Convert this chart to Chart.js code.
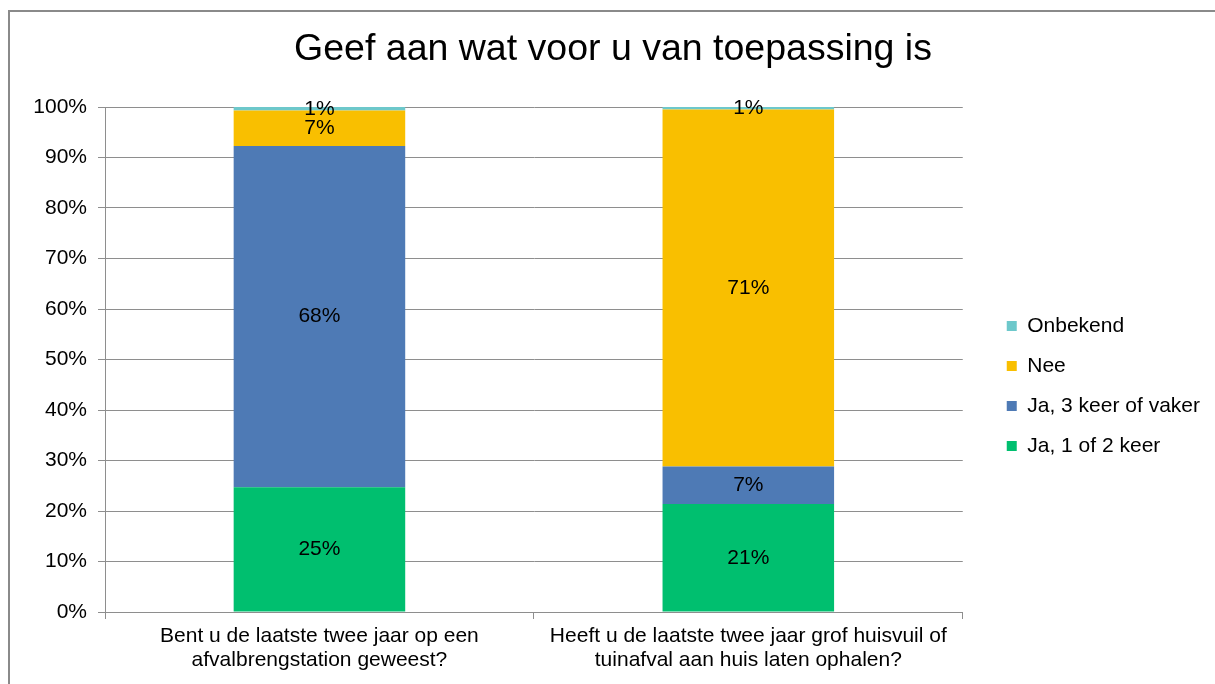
<!DOCTYPE html>
<html>
<head>
<meta charset="utf-8">
<script src="https://cdn.jsdelivr.net/npm/chart.js@4/dist/chart.umd.min.js"></script>
<style>
  html, body { margin: 0; padding: 0; background: #fff; overflow: hidden; }
  #wrap { position: relative; width: 1215px; height: 684px; }
  #frame {
    position: absolute; left: 8px; top: 10px; width: 1300px; height: 800px;
    border-left: 2px solid #8a8a8a; border-top: 2px solid #8a8a8a;
    pointer-events: none;
  }
</style>
</head>
<body>
<div id="wrap">
  <canvas id="chart" width="1215" height="684"></canvas>
  <div id="frame"></div>
</div>
<script>
  // categorieën (x-as)
  var categories = [
    ["Bent u de laatste twee jaar op een", "afvalbrengstation geweest?"],
    ["Heeft u de laatste twee jaar grof huisvuil of", "tuinafval aan huis laten ophalen?"]
  ];

  // waarden per reeks, in procenten
  var jaEenOfTwee = [24.7, 21.4];
  var jaDrieOfVaker = [67.6, 7.4];
  var nee = [7.0, 70.7];
  var onbekend = [0.7, 0.5];

  var yTicks = [0, 10, 20, 30, 40, 50, 60, 70, 80, 90, 100];

  var GRID = "#8e8e8e";
  var FONT = "'Liberation Sans', Arial, sans-serif";

  Chart.defaults.font.family = FONT;
  Chart.defaults.color = "#000";

  /** percentages midden in elk segment */
  var segmentLabels = {
    id: "segmentLabels",
    afterDatasetsDraw: function (chart) {
      var ctx = chart.ctx;
      ctx.save();
      ctx.font = "21px " + FONT;
      ctx.fillStyle = "#000";
      ctx.textAlign = "center";
      ctx.textBaseline = "middle";
      chart.data.datasets.forEach(function (ds, di) {
        chart.getDatasetMeta(di).data.forEach(function (bar, i) {
          var v = ds.data[i];
          ctx.fillText(Math.round(v) + "%", bar.x, (bar.y + bar.base) / 2);
        });
      });
      ctx.restore();
    }
  };

  new Chart(document.getElementById("chart"), {
    type: "bar",
    data: {
      labels: categories,
      datasets: [
        { label: "Ja, 1 of 2 keer", data: jaEenOfTwee, backgroundColor: "#00bf6f" },
        { label: "Ja, 3 keer of vaker", data: jaDrieOfVaker, backgroundColor: "#4e7ab5" },
        { label: "Nee", data: nee, backgroundColor: "#f9bf00" },
        { label: "Onbekend", data: onbekend, backgroundColor: "#6dc8cb" }
      ]
    },
    options: {
      responsive: false,
      animation: false,
      borderWidth: 0,
      barPercentage: 0.4,
      categoryPercentage: 1,
      layout: { padding: { left: 16, right: 5, top: 0, bottom: 0 } },
      plugins: {
        tooltip: { enabled: false },
        title: {
          display: true,
          text: "Geef aan wat voor u van toepassing is",
          color: "#000",
          font: { size: 37.5, weight: "normal", lineHeight: 1.2 },
          padding: { top: 27, bottom: 35 }
        },
        legend: {
          position: "right",
          reverse: true,
          maxWidth: 300,
          title: { display: true, text: "", font: { size: 10, lineHeight: 1.2 }, padding: { top: 76, bottom: 0 } },
          labels: {
            boxWidth: 10,
            boxHeight: 10,
            padding: 19,
            color: "#000",
            font: { size: 21 }
          }
        }
      },
      scales: {
        x: {
          stacked: true,
          grid: { drawOnChartArea: false, drawTicks: true, tickLength: 7, color: GRID },
          border: { display: true, color: GRID },
          ticks: { padding: 5, color: "#000", font: { size: 21, lineHeight: 1.15 }, maxRotation: 0, autoSkip: false },
          afterFit: function (s) { s.height = 72; }
        },
        y: {
          stacked: true,
          min: 0,
          max: 100,
          afterBuildTicks: function (s) {
            s.ticks = yTicks.map(function (v) { return { value: v }; });
          },
          grid: { color: GRID, tickLength: 7 },
          border: { display: true, color: GRID },
          ticks: {
            padding: 11,
            color: "#000",
            font: { size: 21 },
            callback: function (v) { return v + "%"; }
          },
          afterFit: function (s) { s.width = 89; }
        },
        // lege ruimte tussen plotgebied en legenda
        spacer: {
          type: "linear",
          position: "right",
          grid: { display: false, drawTicks: false },
          border: { display: false },
          ticks: { display: false },
          afterFit: function (s) { s.width = 25; }
        }
      }
    },
    plugins: [segmentLabels]
  });
</script>
</body>
</html>
